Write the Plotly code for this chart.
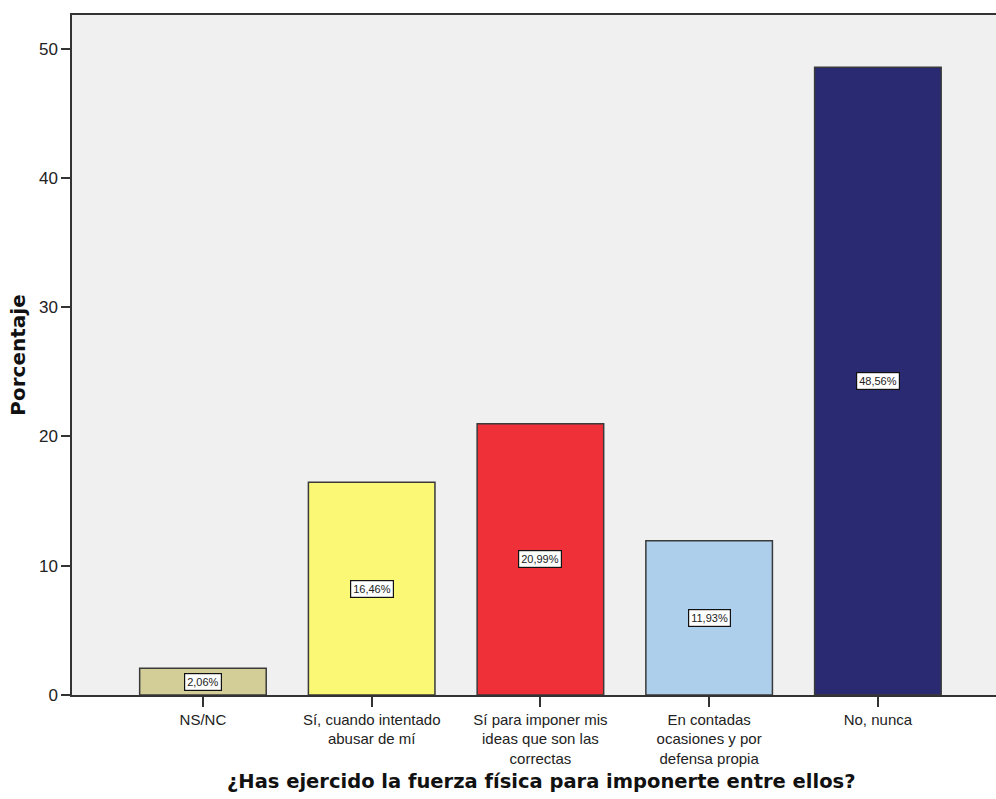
import plotly.graph_objects as go

categories = ["NS/NC", "Sí, cuando intentado<br>abusar de mí",
              "Sí para imponer mis<br>ideas que son las<br>correctas",
              "En contadas<br>ocasiones y por<br>defensa propia", "No, nunca"]
values = [2.06, 16.46, 20.99, 11.93, 48.56]
labels = ["2,06%", "16,46%", "20,99%", "11,93%", "48,56%"]
colors = ["#D3CE97", "#FAF874", "#EF3039", "#ADCFEC", "#292A72"]
yticks = [0, 10, 20, 30, 40, 50]

x = list(range(len(categories)))

W, H = 996, 799
L, R, T, B = 72, 0, 15, 104
pw = W - L - R
ph = H - T - B

fig = go.Figure()
fig.add_trace(go.Bar(
    x=x, y=values, width=0.75,
    marker=dict(color=colors, line=dict(color="#3a3a3a", width=1.5)),
    hoverinfo="skip",
))

for xi, v, lab in zip(x, values, labels):
    fig.add_annotation(
        x=xi, y=v / 2, xref="x", yref="y", text=lab, showarrow=False,
        font=dict(family="Liberation Sans, Arial", size=11, color="#222"),
        bgcolor="white", bordercolor="#111", borderwidth=1.2, borderpad=2,
    )

fig.add_annotation(
    x=(541 - L) / pw, xref="paper", y=(H - B - 781) / ph, yref="paper",
    xanchor="center", yanchor="middle",
    text="<b>¿Has ejercido la fuerza física para imponerte entre ellos?</b>",
    showarrow=False, font=dict(family="DejaVu Sans", size=19.5, color="#111"),
)

fig.update_layout(
    width=W, height=H,
    margin=dict(l=L, r=R, t=T, b=B, pad=0),
    plot_bgcolor="#F0F0F0", paper_bgcolor="white",
    showlegend=False, bargap=0.25,
    xaxis=dict(
        tickmode="array", tickvals=x, ticktext=categories,
        range=[-0.776, 4.70], showgrid=False, zeroline=False,
        showline=True, linecolor="#333", linewidth=1.5, mirror=True,
        ticks="outside", ticklen=10, tickwidth=1.5, tickcolor="#333",
        tickfont=dict(family="Liberation Sans, Arial", size=15, color="#222"),
    ),
    yaxis=dict(
        range=[0, 52.6], tickvals=yticks, showgrid=False, zeroline=False,
        showline=True, linecolor="#333", linewidth=1.5,
        ticks="outside", ticklen=9, tickwidth=1.5, tickcolor="#333",
        tickfont=dict(family="Liberation Sans, Arial", size=17, color="#222"),
        title=dict(text="<b>Porcentaje</b>", standoff=8,
                   font=dict(family="DejaVu Sans", size=20, color="#111")),
    ),
)

fig.write_html("out.html", config={"displayModeBar": False},
               post_script="document.body.style.margin='0';")
